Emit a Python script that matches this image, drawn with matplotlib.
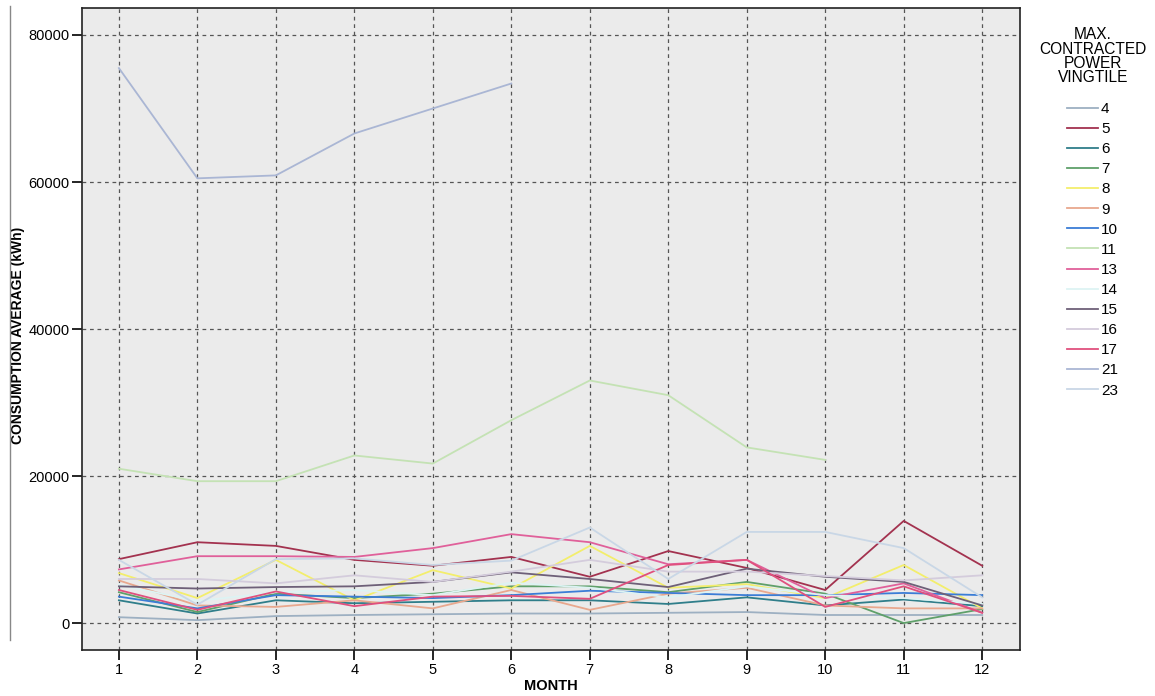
import numpy as np
import matplotlib
matplotlib.use("Agg")
import matplotlib.pyplot as plt
from matplotlib.lines import Line2D

nan = np.nan
months = list(range(1, 13))

series_names = ["4", "5", "6", "7", "8", "9", "10", "11", "13", "14", "15", "16", "17", "21", "23"]
series_colors = ["#9DB0C2", "#A3324F", "#2F7E8A", "#5FA06A", "#F3EE6C", "#E8A88E", "#3B7DD6", "#C4E2B4",
                 "#E0609A", "#DDF3F3", "#6E6078", "#D4CCDC", "#E0507E", "#AAB6D4", "#C9D7E6"]

v4 = [800, 400, 950, 1100, 1200, 1300, 1300, 1400, 1500, 1100, 1100, 1100]
v5 = [8700, 11000, 10500, 8600, 7800, 9000, 6300, 9800, 7500, 4500, 13900, 7800]
v6 = [3100, 1300, 3100, 2700, 2900, 3100, 3100, 2600, 3500, 2400, 3200, 2300]
v7 = [4200, 1500, 4000, 3400, 4000, 5000, 5000, 4200, 5600, 4000, 0, 1900]
v8 = [6800, 3400, 8600, 3100, 7200, 4700, 10500, 4800, 5300, 3400, 7900, 2000]
v9 = [5800, 2400, 2200, 3100, 2000, 4500, 1800, 4000, 4800, 2400, 2000, 2000]
v10 = [3600, 2000, 3800, 3600, 3400, 3800, 4400, 4100, 3800, 3800, 4100, 3800]
v11 = [21000, 19300, 19300, 22800, 21700, 27600, 33000, 31000, 23900, 22200, nan, nan]
v13 = [7300, 9100, 9100, 9000, 10200, 12100, 11000, 8000, 8600, 3400, 5400, 1400]
v14 = [5200, 3000, 4200, 4500, 3800, 5500, 4800, 3500, 5000, 3800, 3400, 2600]
v15 = [5000, 4700, 4900, 5000, 5600, 6900, 6000, 4900, 7400, 6300, 5600, 2400]
v16 = [6000, 6000, 5400, 6500, 5600, 7000, 8600, 7000, 7000, 6400, 5800, 6500]
v17 = [4500, 1800, 4300, 2300, 3600, 3700, 3300, 7900, 8600, 2200, 5000, 1400]
v21 = [75500, 60500, 60900, 66600, 70000, 73400, nan, nan, nan, nan, nan, nan]
v23 = [8600, 2500, 8700, 8800, 7900, 8500, 13000, 6000, 12400, 12400, 10200, 3500]

series_values = [v4, v5, v6, v7, v8, v9, v10, v11, v13, v14, v15, v16, v17, v21, v23]

yticks = [0, 20000, 40000, 60000, 80000]

plt.rcParams['font.family'] = ['Liberation Sans', 'DejaVu Sans']

fig = plt.figure(figsize=(11.55, 6.96), dpi=100)
ax = fig.add_axes([0.071, 0.066, 0.812, 0.9225])
ax.set_facecolor("#EBEBEB")

for name, col, vals in zip(series_names, series_colors, series_values):
    ax.plot(months, vals, color=col, lw=1.3, label=name)

ax.set_xlim(0.53, 12.48)
ax.set_ylim(-3670, 83670)
ax.set_xticks(months)
ax.set_yticks(yticks)
ax.set_yticklabels([str(t) for t in yticks])
ax.tick_params(axis='both', direction='out', length=7, width=1.2, color='black', labelsize=10.5, pad=2)
ax.grid(True, color='#555555', linestyle=(0, (3, 3)), linewidth=0.9)
ax.set_axisbelow(True)
for sp in ax.spines.values():
    sp.set_color('#222222')
    sp.set_linewidth(1.2)

ax.set_ylabel("CONSUMPTION AVERAGE (kWh)", fontsize=10, fontweight='bold',
              family=['Liberation Sans Narrow', 'Liberation Sans'])
ax.yaxis.set_label_coords(-0.061, 0.49)
ax.set_xlabel("MONTH", fontsize=10.5, fontweight='bold',
              family=['Liberation Sans Narrow', 'Liberation Sans'], labelpad=2)

leg = ax.legend(loc='upper left', bbox_to_anchor=(0.893, 0.972), bbox_transform=fig.transFigure,
                frameon=False, fontsize=11, title="MAX.\nCONTRACTED\nPOWER\nVINGTILE",
                title_fontsize=11.2, handlelength=2.0, handletextpad=0.2, labelspacing=0.4,
                borderpad=0)
leg.get_title().set_multialignment('center')
leg.get_title().set_linespacing(0.95)
leg._legend_box.sep = 12

fig.add_artist(Line2D([10 / 1155, 10 / 1155], [1 - 6 / 696, 1 - 640 / 696], transform=fig.transFigure,
                      color='#888888', lw=1))

fig.savefig("out.png", dpi=100)
